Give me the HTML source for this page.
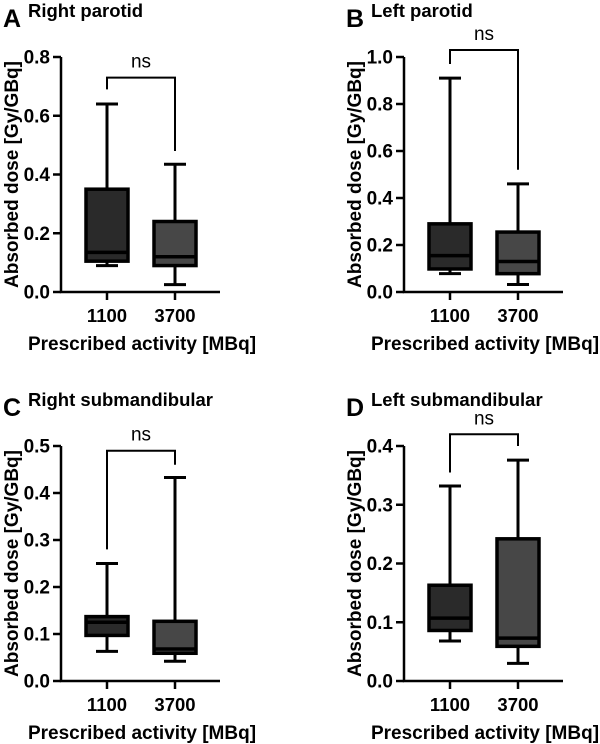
<!DOCTYPE html>
<html><head><meta charset="utf-8"><style>
html,body{margin:0;padding:0;background:#fff;}
svg{display:block;font-family:"Liberation Sans",Arial,sans-serif;font-weight:bold;}
</style></head><body>
<svg id="chart" width="600" height="744" viewBox="0 0 600 744"></svg>
<script>
const groups = ["1100","3700"];
const panelLetters = ["A","B","C","D"];
const panelTitles = ["Right parotid","Left parotid","Right submandibular","Left submandibular"];
const yMaxes = [0.8, 1.0, 0.5, 0.4];
const yTickSteps = [0.2, 0.2, 0.1, 0.1];
// [min, q1, median, q3, max] per group
const statsA = [[0.09,0.105,0.135,0.35,0.64],[0.025,0.09,0.12,0.24,0.435]];
const statsB = [[0.078,0.098,0.155,0.29,0.91],[0.032,0.078,0.13,0.255,0.46]];
const statsC = [[0.063,0.097,0.125,0.137,0.25],[0.042,0.059,0.068,0.127,0.433]];
const statsD = [[0.068,0.086,0.107,0.163,0.332],[0.03,0.059,0.073,0.242,0.376]];
// bracket: [top, leftLegEnd, rightLegEnd]
const bracketA = [0.73,0.69,0.48];
const bracketB = [1.03,0.97,0.52];
const bracketC = [0.49,0.28,0.46];
const bracketD = [0.42,0.355,0.40];
const allStats=[statsA,statsB,statsC,statsD];
const allBrackets=[bracketA,bracketB,bracketC,bracketD];
const origins=[[0,0],[343,0],[0,389],[343,389]];
const fills=["#2a2a2a","#474747"];
const svg=document.getElementById('chart');
const NS="http://www.w3.org/2000/svg";
function mk(tag,attrs,parent,text){const e=document.createElementNS(NS,tag);for(const k in attrs)e.setAttribute(k,attrs[k]);if(text!==undefined)e.textContent=text;parent.appendChild(e);return e;}
for(let p=0;p<4;p++){
  const [ox,oy]=origins[p];
  const g=mk('g',{transform:`translate(${ox},${oy})`},svg);
  
  
  const ax=61, y0=292, yTop=57, xEnd=220;
  const ys=v=>y0-(v/yMaxes[p])*(y0-yTop);
  const xs=i=>107+i*68;
  let t=mk('text',{x:3,y:27,'font-size':25},g,panelLetters[p]);
  
  t=mk('text',{x:28,y:17,'font-size':18.5},g,panelTitles[p]);
  
  let a=mk('path',{d:`M${ax},${yTop}V${y0}H${xEnd}`,stroke:'#000','stroke-width':2.5,fill:'none'},g);
  
  const nt=Math.round(yMaxes[p]/yTickSteps[p]);
  for(let k=0;k<=nt;k++){
    const v=k*yTickSteps[p],y=ys(v);
    const tk=mk('line',{x1:53,x2:ax,y1:y,y2:y,stroke:'#000','stroke-width':2.5},g);
    
    const tl=mk('text',{x:50,y:y+6.5,'font-size':19,'text-anchor':'end'},g,v.toFixed(1));
    
  }
  const yt=mk('text',{x:0,y:0,'font-size':19,'text-anchor':'middle',transform:`translate(18,${(y0+yTop)/2}) rotate(-90)`},g,'Absorbed dose [Gy/GBq]');
  
  const xt=mk('text',{x:142,y:350,'font-size':19,'text-anchor':'middle'},g,'Prescribed activity [MBq]');
  
  const st=allStats[p];
  for(let i=0;i<2;i++){
    const x=xs(i),[mn,q1,md,q3,mx]=st[i];
    const tk=mk('line',{x1:x,x2:x,y1:y0,y2:y0+8,stroke:'#000','stroke-width':2.5},g);
    
    const tl=mk('text',{x:x,y:322,'font-size':18.5,'text-anchor':'middle'},g,groups[i]);
    
    const w=mk('path',{d:`M${x},${ys(mx)}V${ys(q3)}M${x},${ys(q1)}V${ys(mn)}M${x-11},${ys(mx)}H${x+11}M${x-11},${ys(mn)}H${x+11}`,stroke:'#000','stroke-width':3,fill:'none'},g);
    
    const b=mk('rect',{x:x-21,y:ys(q3),width:42,height:ys(q1)-ys(q3),fill:fills[i],stroke:'#000','stroke-width':3.5},g);
    
    const m=mk('line',{x1:x-21,x2:x+21,y1:ys(md),y2:ys(md),stroke:'#000','stroke-width':3.5},g);
    
  }
  const br=allBrackets[p];
  const bk=mk('path',{d:`M${xs(0)},${ys(br[1])}V${ys(br[0])}H${xs(1)}V${ys(br[2])}`,stroke:'#000','stroke-width':2,fill:'none'},g);
  
  const ns=mk('text',{x:(xs(0)+xs(1))/2,y:ys(br[0])-10,'font-size':19,'font-weight':'normal','text-anchor':'middle'},g,'ns');
  
}
</script>
</body></html>
